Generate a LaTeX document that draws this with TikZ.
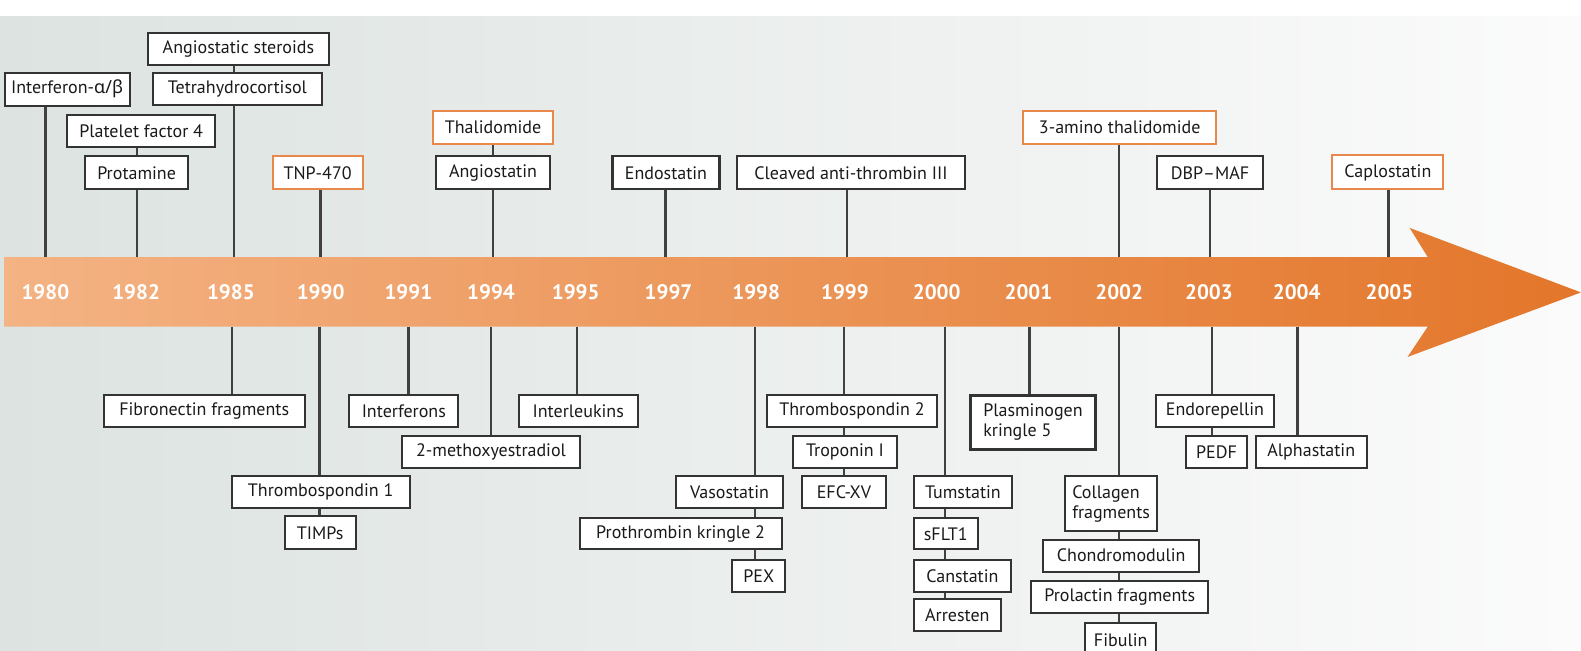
\documentclass[tikz,border=0pt]{standalone}
\usepackage{fontspec}
\setmainfont{PT Sans}
\newfontfamily\grk{Noto Sans}
\definecolor{bgL}{HTML}{DCE3E0}
\definecolor{bgM}{HTML}{EBEDEB}
\definecolor{bgR}{HTML}{FBFBFB}
\definecolor{arrL}{HTML}{F4B384}
\definecolor{arrM}{HTML}{EC9656}
\definecolor{arrR}{HTML}{E3762A}
\definecolor{boxline}{HTML}{333333}
\definecolor{orline}{HTML}{E8884A}
\definecolor{stemc}{HTML}{404040}
\definecolor{txt}{HTML}{1A1A1A}
\begin{document}
\begin{tikzpicture}[x=1.0083pt,y=-1.0083pt,
  bx/.style={draw=boxline,line width=2.1pt,fill=white,inner sep=0pt,minimum height=33pt,
    text=txt,align=left,font=\fontsize{18}{20}\selectfont},
  obx/.style={bx,draw=orline},
  stemline/.style={draw=stemc,line width=2.4pt},
  yr/.style={text=white,font=\fontsize{21}{21}\bfseries\selectfont}]
\useasboundingbox (0,0) rectangle (1568,645.6);
\clip (0,0) rectangle (1568,645.6);
\fill[white] (0,0) rectangle (1568,645.6);
\shade[left color=bgL,middle color=bgM,right color=bgR] (0,16) rectangle (1568,645.6);
% arrow
\shade[left color=arrL,middle color=arrM,right color=arrR]
  (4,255) -- (1416,255) -- (1398,226) -- (1568,290) -- (1396,354) -- (1416,324) -- (4,324) -- cycle;
% years
\foreach \yy/\xx in {1980/45,1982/135,1985/229,1990/318,1991/405,1994/487,1995/571,1997/663,
  1998/750,1999/838,2000/929,2001/1020,2002/1110,2003/1199,2004/1286,2005/1378}
  \node[yr] (y\yy) at (\xx,290) {\yy};
% stem anchors on the band
\coordinate (a80) at (45,255);
\coordinate (a82) at (136,255);
\coordinate (a85) at (232,255);
\coordinate (a90) at (318,255);
\coordinate (a94) at (489,255);
\coordinate (a97) at (660,255);
\coordinate (a99) at (840,255);
\coordinate (a02) at (1110,255);
\coordinate (a03) at (1200,255);
\coordinate (a05) at (1377,255);
\coordinate (b85) at (230,324);
\coordinate (b90) at (317,324);
\coordinate (b91) at (405,324);
\coordinate (b94) at (487,324);
\coordinate (b95) at (572,324);
\coordinate (b98) at (749,324);
\coordinate (b99) at (837,324);
\coordinate (b00) at (937,324);
\coordinate (b01) at (1021,324);
\coordinate (b02) at (1110,324);
\coordinate (b03) at (1202,324);
\coordinate (b04) at (1287,324);
% top boxes
\node[bx,minimum width=125pt] (ifn) at (66.5,88.5) {Interferon-{\grk α/β}};
\node[bx,minimum width=181pt,minimum height=32pt] (ast) at (236.5,49) {Angiostatic steroids};
\node[bx,minimum width=169pt,minimum height=32pt] (thc) at (235.5,88) {Tetrahydrocortisol};
\node[bx,minimum width=148pt,minimum height=32pt] (pf4) at (140,130) {Platelet factor 4};
\node[bx,minimum width=103pt] (prot) at (135.5,171.5) {Protamine};
\node[obx,minimum width=90pt] (tnp) at (315,171.5) {TNP-470};
\node[obx,minimum width=120pt] (thal) at (489,126.5) {Thalidomide};
\node[bx,minimum width=114pt] (angio) at (489,171.5) {Angiostatin};
\node[bx,minimum width=107pt] (endo) at (660.5,171.5) {Endostatin};
\node[bx,minimum width=228pt] (cat) at (844,171.5) {Cleaved anti-thrombin III};
\node[obx,minimum width=193pt] (amino) at (1110.5,126.5) {3-amino thalidomide};
\node[bx,minimum width=106pt] (dbp) at (1200,171.5) {DBP–MAF};
\node[obx,minimum width=111pt,minimum height=34pt] (caplo) at (1376.5,171) {Caplostatin};
% top stems
\draw[stemline] (ifn.south -| a80) -- (a80);
\draw[stemline] (ast.south -| a85) -- (thc.north -| a85);
\draw[stemline] (thc.south -| a85) -- (a85);
\draw[stemline] (pf4.south -| a82) -- (prot.north -| a82);
\draw[stemline] (prot.south -| a82) -- (a82);
\draw[stemline] (tnp.south -| a90) -- (a90);
\draw[stemline] (thal.south -| a94) -- (angio.north -| a94);
\draw[stemline] (angio.south -| a94) -- (a94);
\draw[stemline] (endo.south -| a97) -- (a97);
\draw[stemline] (cat.south -| a99) -- (a99);
\draw[stemline] (amino.south -| a02) -- (a02);
\draw[stemline] (dbp.south -| a03) -- (a03);
\draw[stemline] (caplo.south -| a05) -- (a05);
% bottom boxes
\node[bx,minimum width=201pt,minimum height=32pt] (fib) at (202.5,408) {Fibronectin fragments};
\node[bx,minimum width=178pt,minimum height=32pt] (tsp1) at (318,488) {Thrombospondin 1};
\node[bx,minimum width=71pt] (timps) at (317.5,528.5) {TIMPs};
\node[bx,minimum width=109pt,minimum height=32pt] (ifns) at (400.5,408) {Interferons};
\node[bx,minimum width=178pt,minimum height=32pt] (meo) at (487,448) {2-methoxyestradiol};
\node[bx,minimum width=119pt,minimum height=32pt] (il) at (573.5,408) {Interleukins};
\node[bx,minimum width=107pt,minimum height=32pt] (vaso) at (723.5,488) {Vasostatin};
\node[bx,minimum width=202pt,minimum height=31pt] (pk2) at (675,529.5) {Prothrombin kringle 2};
\node[bx,minimum width=53pt,minimum height=32pt] (pex) at (752.5,571) {PEX};
\node[bx,minimum width=170pt,minimum height=32pt] (tsp2) at (845,408) {Thrombospondin 2};
\node[bx,minimum width=104pt,minimum height=32pt] (trop) at (838,448) {Troponin I};
\node[bx,minimum width=84pt,minimum height=32pt] (efc) at (837,488) {EFC-XV};
\node[bx,minimum width=98pt,minimum height=32pt] (tum) at (955,488) {Tumstatin};
\node[bx,minimum width=64pt,minimum height=31pt] (sflt) at (938,529.5) {sFLT1};
\node[bx,minimum width=97pt,minimum height=32pt] (can) at (954.5,571) {Canstatin};
\node[bx,minimum width=87pt,minimum height=32pt] (arr) at (949.5,610) {Arresten};
\node[bx,minimum width=125pt,minimum height=54pt] (pk5) at (1024.5,419) {Plasminogen\\kringle 5};
\node[bx,minimum width=92pt,minimum height=55pt] (col) at (1102,499.5) {Collagen\\fragments};
\node[bx,minimum width=156pt,minimum height=32pt] (chon) at (1112,551) {Chondromodulin};
\node[bx,minimum width=177pt,minimum height=32pt] (prol) at (1110.5,592) {Prolactin fragments};
\node[bx,minimum width=71pt] (fibu) at (1111.5,634.5) {Fibulin};
\node[bx,minimum width=118pt,minimum height=32pt] (endr) at (1205,408) {Endorepellin};
\node[bx,minimum width=61pt,minimum height=32pt] (pedf) at (1206.5,448) {PEDF};
\node[bx,minimum width=111pt,minimum height=32pt] (alpha) at (1300.5,448) {Alphastatin};
% bottom stems
\draw[stemline] (b85) -- (fib.north -| b85);
\draw[stemline] (b90) -- (tsp1.north -| b90);
\draw[stemline] (tsp1.south -| b90) -- (timps.north -| b90);
\draw[stemline] (b91) -- (ifns.north -| b91);
\draw[stemline] (b94) -- (meo.north -| b94);
\draw[stemline] (b95) -- (il.north -| b95);
\draw[stemline] (b98) -- (vaso.north -| b98);
\draw[stemline] (vaso.south -| b98) -- (pk2.north -| b98);
\draw[stemline] (pk2.south -| b98) -- (pex.north -| b98);
\draw[stemline] (b99) -- (tsp2.north -| b99);
\draw[stemline] (tsp2.south -| b99) -- (trop.north -| b99);
\draw[stemline] (trop.south -| b99) -- (efc.north -| b99);
\draw[stemline] (b00) -- (tum.north -| b00);
\draw[stemline] (tum.south -| b00) -- (sflt.north -| b00);
\draw[stemline] (sflt.south -| b00) -- (can.north -| b00);
\draw[stemline] (can.south -| b00) -- (arr.north -| b00);
\draw[stemline] (b01) -- (pk5.north -| b01);
\draw[stemline] (b02) -- (col.north -| b02);
\draw[stemline] (col.south -| b02) -- (chon.north -| b02);
\draw[stemline] (chon.south -| b02) -- (prol.north -| b02);
\draw[stemline] (prol.south -| b02) -- (fibu.north -| b02);
\draw[stemline] (b03) -- (endr.north -| b03);
\draw[stemline] (endr.south -| b03) -- (pedf.north -| b03);
\draw[stemline] (b04) -- (alpha.north -| b04);
\end{tikzpicture}
\end{document}
